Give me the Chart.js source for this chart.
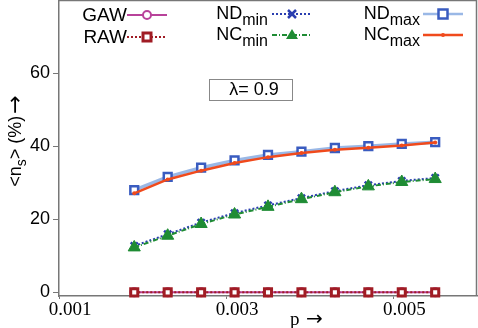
<!DOCTYPE html>
<html>
<head>
<meta charset="utf-8">
<script src="https://cdn.jsdelivr.net/npm/chart.js@4.4.0/dist/chart.umd.min.js"></script>
<style>
  body { margin: 0; background: #fff; }
  #wrap { width: 478px; height: 328px; position: relative; }
</style>
</head>
<body>
<div id="wrap"><canvas id="grafico"></canvas></div>
<script>
// valores
const pVals = [0.0019, 0.0023, 0.0027, 0.0031, 0.0035, 0.0039, 0.0043, 0.0047, 0.0051, 0.0055]
const gaw = [0, 0, 0, 0, 0, 0, 0, 0, 0, 0]
const raw = [0, 0, 0, 0, 0, 0, 0, 0, 0, 0]
const ndMin = [12.7, 15.9, 19.1, 21.7, 23.8, 25.8, 27.7, 29.3, 30.5, 31.3]
const ncMin = [12.3, 15.5, 18.7, 21.3, 23.4, 25.5, 27.4, 29.0, 30.2, 31.0]
const ndMax = [28.0, 31.6, 34.1, 36.1, 37.6, 38.5, 39.5, 40.0, 40.6, 41.1]
const ncMax = [27.1, 30.9, 33.3, 35.4, 37.0, 38.1, 39.0, 39.6, 40.2, 41.0]
const xTicks = [0.001, 0.003, 0.005]
const yTicks = [0, 20, 40, 60]

const SANS = '"Liberation Sans", Arial, sans-serif'
const SERIF = '"Liberation Serif", "Times New Roman", serif'
const FLECHA = '"DejaVu Sans", sans-serif'

const puntos = (vals) => vals.map((v, i) => ({ x: pVals[i], y: v }))

const series = [
  { label: 'GAW', data: puntos(gaw), borderColor: '#b8429a', borderWidth: 2, pointStyle: 'circle',
    pointRadius: 4, pointBorderWidth: 2, pointBackgroundColor: '#fff', pointBorderColor: '#b8429a', order: 5 },
  { label: 'RAW', data: puntos(raw), borderColor: '#a01c24', borderWidth: 2, borderDash: [2, 2], pointStyle: 'rect',
    pointRadius: 5, pointBorderWidth: 3, pointBackgroundColor: '#fff', pointBorderColor: '#a01c24', order: 4 },
  { label: 'NDmin', data: puntos(ndMin), borderColor: '#2a3eb0', borderWidth: 2, borderDash: [2, 2], pointStyle: 'crossRot',
    pointRadius: 5, pointBorderWidth: 2.5, pointBorderColor: '#2a3eb0', order: 3 },
  { label: 'NCmin', data: puntos(ncMin), borderColor: '#1f8c34', borderWidth: 2, borderDash: [5, 2, 1, 2], pointStyle: 'triangle',
    pointRadius: 7, pointBorderWidth: 1, pointBackgroundColor: '#1f8c34', pointBorderColor: '#1f8c34', order: 2 },
  { label: 'NDmax', data: puntos(ndMax), borderColor: '#9ab8e6', borderWidth: 3.5, pointStyle: 'rect',
    pointRadius: 5.5, pointBorderWidth: 2.5, pointBackgroundColor: '#fff', pointBorderColor: '#3a5cc0', order: 1 },
  { label: 'NCmax', data: puntos(ncMax), borderColor: '#f04a1c', borderWidth: 2.5, pointStyle: 'circle',
    pointRadius: 2, pointBorderWidth: 0, pointBackgroundColor: '#f04a1c', order: 0 }
]
series.forEach(s => { s.showLine = true; s.fill = false; s.tension = 0; s.clip = false })

// leyenda, titulos y recuadro dibujados a mano
function marcador(ctx, tipo, x, y) {
  ctx.save()
  ctx.setLineDash([])
  if (tipo === 'GAW') {
    ctx.strokeStyle = '#b8429a'; ctx.lineWidth = 2; ctx.fillStyle = '#fff'
    ctx.beginPath(); ctx.arc(x, y, 4, 0, Math.PI * 2); ctx.fill(); ctx.stroke()
  } else if (tipo === 'RAW') {
    ctx.strokeStyle = '#a01c24'; ctx.lineWidth = 3; ctx.fillStyle = '#fff'
    ctx.fillRect(x - 4, y - 4, 8, 8); ctx.strokeRect(x - 4, y - 4, 8, 8)
  } else if (tipo === 'NDmin') {
    ctx.strokeStyle = '#2a3eb0'; ctx.lineWidth = 2.5
    ctx.beginPath(); ctx.moveTo(x - 4, y - 4); ctx.lineTo(x + 4, y + 4); ctx.moveTo(x + 4, y - 4); ctx.lineTo(x - 4, y + 4); ctx.stroke()
  } else if (tipo === 'NCmin') {
    ctx.fillStyle = '#1f8c34'
    ctx.beginPath(); ctx.moveTo(x, y - 6); ctx.lineTo(x + 6, y + 4); ctx.lineTo(x - 6, y + 4); ctx.closePath(); ctx.fill()
  } else if (tipo === 'NDmax') {
    ctx.strokeStyle = '#3a5cc0'; ctx.lineWidth = 2.5; ctx.fillStyle = '#fff'
    ctx.fillRect(x - 4.5, y - 4.5, 9, 9); ctx.strokeRect(x - 4.5, y - 4.5, 9, 9)
  } else {
    ctx.fillStyle = '#f04a1c'
    ctx.beginPath(); ctx.arc(x, y, 2, 0, Math.PI * 2); ctx.fill()
  }
  ctx.restore()
}

const leyenda = [
  { tipo: 'GAW', txt: 'GAW', sub: '', xr: 127, yb: 21, x1: 127, x2: 167, y: 15, lw: 2 },
  { tipo: 'RAW', txt: 'RAW', sub: '', xr: 127, yb: 43, x1: 127, x2: 167, y: 37, lw: 2 },
  { tipo: 'NDmin', txt: 'ND', sub: 'min', xr: 268, yb: 19, x1: 272, x2: 312, y: 14, lw: 2 },
  { tipo: 'NCmin', txt: 'NC', sub: 'min', xr: 268, yb: 40, x1: 272, x2: 312, y: 35, lw: 2 },
  { tipo: 'NDmax', txt: 'ND', sub: 'max', xr: 420, yb: 19, x1: 423, x2: 463, y: 14, lw: 2.5 },
  { tipo: 'NCmax', txt: 'NC', sub: 'max', xr: 420, yb: 40, x1: 423, x2: 463, y: 35, lw: 2.5 }
]

const extras = {
  id: 'extras',
  afterDraw(chart) {
    const ctx = chart.ctx
    const area = chart.chartArea
    ctx.save()
    // bordes derecho y superior
    ctx.strokeStyle = '#777'; ctx.lineWidth = 1.5
    ctx.beginPath()
    ctx.moveTo(area.left, area.top + 0.5); ctx.lineTo(area.right, area.top + 0.5)
    ctx.moveTo(area.right - 0.5, area.top); ctx.lineTo(area.right - 0.5, area.bottom)
    ctx.stroke()

    // leyenda
    ctx.fillStyle = '#000'; ctx.textBaseline = 'alphabetic'
    leyenda.forEach((e) => {
      const fMain = e.sub ? 18 : 19
      ctx.font = fMain + 'px ' + SANS
      const w1 = ctx.measureText(e.txt).width
      ctx.font = '16px ' + SANS
      const w2 = e.sub ? ctx.measureText(e.sub).width : 0
      const x0 = e.xr - w1 - w2
      ctx.font = fMain + 'px ' + SANS
      ctx.textAlign = 'left'
      ctx.fillText(e.txt, x0, e.yb)
      if (e.sub) { ctx.font = '16px ' + SANS; ctx.fillText(e.sub, x0 + w1, e.yb + 6) }
      const ds = series.find(s => s.label === e.tipo)
      ctx.strokeStyle = ds.borderColor; ctx.lineWidth = e.lw
      ctx.setLineDash(ds.borderDash || [])
      ctx.beginPath(); ctx.moveTo(e.x1, e.y); ctx.lineTo(e.x2, e.y); ctx.stroke()
      ctx.setLineDash([])
      marcador(ctx, e.tipo, (e.x1 + e.x2) / 2, e.y)
    })

    // recuadro lambda
    ctx.strokeStyle = '#888'; ctx.lineWidth = 1
    ctx.strokeRect(209.5, 79.5, 83, 21)
    ctx.fillStyle = '#000'; ctx.font = '18px ' + SANS
    ctx.textAlign = 'center'; ctx.textBaseline = 'middle'
    ctx.fillText('λ= 0.9', 254, 90)

    // titulo eje x
    ctx.font = '19px ' + SERIF; ctx.textAlign = 'left'; ctx.textBaseline = 'alphabetic'
    ctx.fillText('p', 290, 325)
    ctx.font = '20px ' + FLECHA
    ctx.fillText('→', 306, 325)

    // titulo eje y
    ctx.translate(21, 141); ctx.rotate(-Math.PI / 2)
    ctx.font = '18px ' + SANS
    const a = '<n', b = '> (%)', c = '→'
    const wa = ctx.measureText(a).width, wb = ctx.measureText(b).width
    ctx.font = '14px ' + SANS
    const ws = ctx.measureText('s').width
    ctx.font = '22px ' + FLECHA
    const wc = ctx.measureText(c).width
    let x = -(wa + ws + wb + wc + 2) / 2
    ctx.font = '18px ' + SANS; ctx.fillText(a, x, 0); x += wa
    ctx.font = '14px ' + SANS; ctx.fillText('s', x, 5); x += ws
    ctx.font = '18px ' + SANS; ctx.fillText(b, x, 0); x += wb + 2
    ctx.font = '22px ' + FLECHA; ctx.fillText(c, x, 1)
    ctx.restore()
  }
}

const lienzo = document.getElementById('grafico')

new Chart(lienzo, {
  type: 'scatter',
  data: { datasets: series },
  options: {
    responsive: true,
    maintainAspectRatio: false,
    animation: false,
    layout: { autoPadding: false, padding: { top: 0, right: 1, left: 0, bottom: 0 } },
    plugins: { legend: { display: false }, tooltip: { enabled: false } },
    scales: {
      x: {
        type: 'linear',
        min: 0.001,
        max: 0.006,
        afterBuildTicks: (scale) => { scale.ticks = xTicks.map(v => ({ value: v })) },
        afterFit: (scale) => { scale.height = 32; scale.paddingRight = 0 },
        ticks: {
          color: '#000',
          font: { family: SERIF, size: 19 },
          padding: 0,
          labelOffset: 11,
          maxRotation: 0,
          callback: (v) => v.toFixed(3)
        },
        grid: { drawOnChartArea: false, tickLength: 3, color: '#777' },
        border: { color: '#777', width: 1.5 }
      },
      y: {
        min: -1,
        max: 80,
        afterBuildTicks: (scale) => { scale.ticks = yTicks.map(v => ({ value: v })) },
        afterFit: (scale) => { scale.width = 59; scale.paddingTop = 0; scale.paddingBottom = 0 },
        ticks: {
          color: '#000',
          font: { family: SANS, size: 18 },
          padding: 3
        },
        grid: { drawOnChartArea: false, tickLength: 6, color: '#777' },
        border: { color: '#777', width: 1.5 }
      }
    }
  },
  plugins: [extras]
})
</script>
</body>
</html>
